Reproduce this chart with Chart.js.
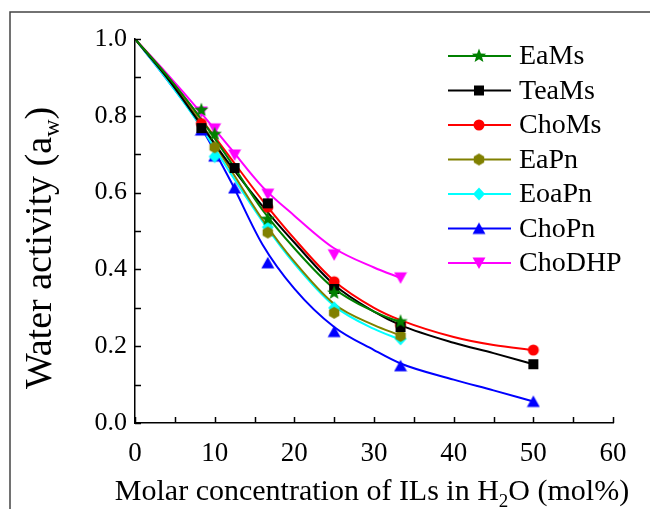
<!DOCTYPE html>
<html>
<head>
<meta charset="utf-8">
<script src="https://cdn.jsdelivr.net/npm/chart.js@4.4.1/dist/chart.umd.min.js"></script>
<style>
  html, body { margin: 0; padding: 0; background: #fff; }
  #wrap { width: 650px; height: 509px; }
</style>
</head>
<body>
<div id="wrap"><canvas id="aw-chart" width="650" height="509"></canvas></div>
<script>
// measured points: molar concentration of ILs (mol%) vs water activity
const concentrations = [0, 8.33, 10, 12.5, 16.67, 25, 33.33, 50];
const eaMs   = [1, 0.815, 0.752, null, 0.531, 0.339, 0.264, null];
const teaMs  = [1, 0.768, null, 0.664, 0.572, 0.349, 0.250, 0.153];
const choMs  = [1, 0.780, null, null, 0.562, 0.368, 0.255, 0.190];
const eaPn   = [1, null, 0.718, null, 0.496, 0.287, 0.227, null];
const eoaPn  = [1, null, 0.694, null, 0.510, 0.300, 0.219, null];
const choPn  = [1, 0.763, 0.695, 0.612, 0.417, 0.238, 0.149, 0.056];
const choDHP = [1, 0.810, 0.766, 0.698, 0.596, 0.438, 0.378, null];

// fitted curves at these concentrations
const fitX = [0, 4, 8, 12, 16, 20, 25, 30, 33.33, 40, 45, 50];
const eaMsFit   = [1, 0.905, 0.800, 0.680, 0.555, 0.455, 0.350, 0.290, 0.262, null, null, null];
const teaMsFit  = [1, 0.900, 0.785, 0.670, 0.565, 0.470, 0.360, 0.290, 0.255, 0.209, 0.182, 0.153];
const choMsFit  = [1, 0.905, 0.800, 0.690, 0.580, 0.480, 0.370, 0.300, 0.268, 0.224, 0.203, 0.190];
const eaPnFit   = [1, 0.900, 0.790, 0.660, 0.530, 0.420, 0.310, 0.255, 0.228, null, null, null];
const eoaPnFit  = [1, 0.895, 0.780, 0.650, 0.525, 0.415, 0.305, 0.245, 0.217, null, null, null];
const choPnFit  = [1, 0.895, 0.780, 0.630, 0.465, 0.350, 0.250, 0.190, 0.155, 0.113, 0.085, 0.056];
const choDHPFit = [1, 0.910, 0.815, 0.715, 0.615, 0.540, 0.455, 0.405, 0.378, null, null, null];

const seriesNames = ['EaMs', 'TeaMs', 'ChoMs', 'EaPn', 'EoaPn', 'ChoPn', 'ChoDHP'];
const seriesValues = [eaMs, teaMs, choMs, eaPn, eoaPn, choPn, choDHP];
const seriesFits = [eaMsFit, teaMsFit, choMsFit, eaPnFit, eoaPnFit, choPnFit, choDHPFit];
const seriesColors = ['#008000', '#000000', '#ff0000', '#808000', '#00ffff', '#0000ff', '#ff00ff'];
const seriesMarkers = ['star', 'square', 'circle', 'hexagon', 'diamond', 'triUp', 'triDown'];

const xTicks = [0, 10, 20, 30, 40, 50, 60];
const yTicks = [0, 0.2, 0.4, 0.6, 0.8, 1.0];

const FONT = "'Liberation Serif', 'Times New Roman', serif";

// small canvases used as point styles (filled markers)
function makeMarker(shape, color) {
  const size = shape === 'star' ? 16 : 14;
  const c = document.createElement('canvas');
  c.width = size; c.height = size;
  const g = c.getContext('2d');
  const m = size / 2;
  g.fillStyle = color;
  g.beginPath();
  if (shape === 'square') {
    g.rect(m - 5, m - 5, 10, 10);
  } else if (shape === 'circle') {
    g.arc(m, m, 5.5, 0, Math.PI * 2);
  } else if (shape === 'diamond') {
    g.moveTo(m, m - 6.5); g.lineTo(m + 6, m); g.lineTo(m, m + 6.5); g.lineTo(m - 6, m);
  } else if (shape === 'triUp') {
    g.moveTo(m, m - 6); g.lineTo(m + 6.5, m + 5.5); g.lineTo(m - 6.5, m + 5.5);
  } else if (shape === 'triDown') {
    g.moveTo(m, m + 6); g.lineTo(m + 6.5, m - 5.5); g.lineTo(m - 6.5, m - 5.5);
  } else if (shape === 'hexagon') {
    for (let k = 0; k < 6; k++) {
      const a = Math.PI / 6 + k * Math.PI / 3;
      g.lineTo(m + 6 * Math.cos(a), m + 6 * Math.sin(a));
    }
  } else if (shape === 'star') {
    for (let k = 0; k < 10; k++) {
      const r = k % 2 === 0 ? 7.5 : 3.2;
      const a = -Math.PI / 2 + k * Math.PI / 5;
      g.lineTo(m + r * Math.cos(a), m + r * Math.sin(a));
    }
  }
  g.closePath();
  g.fill();
  return c;
}

const markerImages = seriesMarkers.map((s, i) => makeMarker(s, seriesColors[i]));

function toPoints(xs, ys) {
  return xs.map((x, j) => ({ x: x, y: ys[j] })).filter(p => p.y !== null);
}

const datasets = [];
seriesNames.forEach((name, i) => {
  // fitted curve
  datasets.push({
    label: name + ' fit',
    data: toPoints(fitX, seriesFits[i]),
    borderColor: seriesColors[i],
    borderWidth: 2,
    showLine: true,
    cubicInterpolationMode: 'monotone',
    pointRadius: 0,
    pointHoverRadius: 0,
    order: 2
  });
  // measured markers (the point at 0 has no marker)
  datasets.push({
    label: name,
    data: toPoints(concentrations, seriesValues[i]).filter(p => p.x > 0),
    borderColor: seriesColors[i],
    backgroundColor: seriesColors[i],
    showLine: false,
    pointStyle: markerImages[i],
    pointRadius: 5,
    pointHoverRadius: 5,
    order: 1
  });
});

// draw text with subscripts, parts = [{t, sub}]
function drawRich(ctx, parts, x, y, size) {
  const subSize = Math.round(size * 0.62);
  let total = 0;
  parts.forEach(p => {
    ctx.font = (p.sub ? subSize : size) + 'px ' + FONT;
    p.w = ctx.measureText(p.t).width;
    total += p.w;
  });
  let cx = x - total / 2;
  parts.forEach(p => {
    ctx.font = (p.sub ? subSize : size) + 'px ' + FONT;
    ctx.fillText(p.t, cx, p.sub ? y + size * 0.22 : y);
    cx += p.w;
  });
}

const decorPlugin = {
  id: 'decor',
  beforeDraw(chart) {
    const ctx = chart.ctx;
    ctx.save();
    ctx.fillStyle = '#fff';
    ctx.fillRect(0, 0, chart.width, chart.height);
    // outer frame (top and left only)
    ctx.strokeStyle = '#444';
    ctx.lineWidth = 1.5;
    ctx.beginPath();
    ctx.moveTo(10, chart.height);
    ctx.lineTo(10, 12);
    ctx.lineTo(chart.width, 12);
    ctx.stroke();
    ctx.restore();
  },
  afterDraw(chart) {
    const ctx = chart.ctx;
    const xs = chart.scales.x, ys = chart.scales.y;
    const area = chart.chartArea;
    ctx.save();
    // inward ticks
    ctx.strokeStyle = '#000';
    ctx.lineWidth = 1.5;
    ctx.beginPath();
    for (let v = 0; v <= 60; v += 5) {
      const px = Math.round(xs.getPixelForValue(v)) + 0.5;
      ctx.moveTo(px, area.bottom);
      ctx.lineTo(px, area.bottom - 6);
    }
    for (let v = 0; v <= 10; v++) {
      const py = Math.round(ys.getPixelForValue(v / 10)) + 0.5;
      ctx.moveTo(area.left, py);
      ctx.lineTo(area.left + 6, py);
    }
    ctx.stroke();

    // axis titles
    ctx.fillStyle = '#000';
    ctx.textBaseline = 'alphabetic';
    ctx.textAlign = 'left';
    drawRich(ctx, [{ t: 'Molar concentration of ILs in H' }, { t: '2', sub: true }, { t: 'O (mol%)' }],
      372, 500, 30);
    ctx.save();
    ctx.translate(51, 248);
    ctx.rotate(-Math.PI / 2);
    drawRich(ctx, [{ t: 'Water activity (a' }, { t: 'w', sub: true }, { t: ')' }], 0, 0, 38);
    ctx.restore();

    // legend: line with marker in the middle
    ctx.font = '28px ' + FONT;
    ctx.textBaseline = 'middle';
    seriesNames.forEach((name, i) => {
      const y = 56 + i * 34.5;
      ctx.strokeStyle = seriesColors[i];
      ctx.lineWidth = 2;
      ctx.beginPath();
      ctx.moveTo(448, y);
      ctx.lineTo(511, y);
      ctx.stroke();
      const img = markerImages[i];
      ctx.drawImage(img, 479 - img.width / 2, y - img.height / 2);
      ctx.fillStyle = '#000';
      ctx.fillText(name, 519, y + 1);
    });
    ctx.restore();
  }
};

new Chart(document.getElementById('aw-chart'), {
  type: 'scatter',
  data: { datasets: datasets },
  options: {
    responsive: false,
    animation: false,
    layout: { padding: { top: 39, right: 37, left: 0, bottom: 0 } },
    plugins: {
      legend: { display: false },
      tooltip: { enabled: false }
    },
    scales: {
      x: {
        type: 'linear',
        min: 0,
        max: 60,
        afterBuildTicks: s => { s.ticks = xTicks.map(v => ({ value: v })); },
        afterFit: s => { s.height = 86; },
        grid: { display: false, drawTicks: false },
        border: { display: true, color: '#000', width: 1.5 },
        ticks: { color: '#000', font: { family: FONT, size: 27 }, padding: 15, maxRotation: 0 }
      },
      y: {
        type: 'linear',
        min: 0,
        max: 1,
        afterBuildTicks: s => { s.ticks = yTicks.map(v => ({ value: v })); },
        afterFit: s => { s.width = 135; },
        grid: { display: false, drawTicks: false },
        border: { display: true, color: '#000', width: 1.5 },
        ticks: {
          color: '#000',
          font: { family: FONT, size: 26 },
          padding: 8,
          callback: v => v.toFixed(1)
        }
      }
    }
  },
  plugins: [decorPlugin]
});
</script>
</body>
</html>
